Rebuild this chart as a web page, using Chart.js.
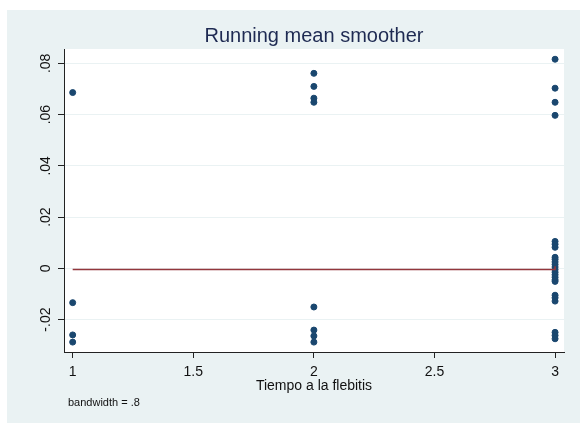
<!DOCTYPE html>
<html>
<head>
<meta charset="utf-8">
<script src="https://cdn.jsdelivr.net/npm/chart.js@4/dist/chart.umd.min.js"></script>
<style>
  html, body { margin: 0; padding: 0; background: #fff; }
  #wrap { width: 580px; height: 423px; }
</style>
</head>
<body>
<div id="wrap"><canvas id="myChart" width="580" height="423"></canvas></div>
<script>
// residuals by time group
const x1 = [1, 1, 1, 1];
const y1 = [0.0686, -0.0134, -0.0260, -0.0288];
const x2 = [2, 2, 2, 2, 2, 2, 2, 2];
const y2 = [0.0761, 0.0710, 0.0664, 0.0648, -0.0151, -0.0241, -0.0264, -0.0288];
const x3 = [3, 3, 3, 3, 3, 3, 3, 3, 3, 3, 3, 3, 3, 3, 3, 3, 3, 3, 3, 3, 3, 3, 3, 3];
const y3 = [0.0816, 0.0703, 0.0648, 0.0597,
            0.0105, 0.0094, 0.0082,
            0.0043, 0.0035, 0.0025, 0.0015, 0.0005, -0.0005, -0.0015, -0.0025, -0.0035, -0.0045, -0.0051,
            -0.0105, -0.0115, -0.0128,
            -0.0250, -0.0262, -0.0275];

// running mean smoother
const smoothX = [1, 2, 3, 3];
const smoothY = [-0.0005, -0.0005, -0.0005, 0.0008];

const xTickValues = [1, 1.5, 2, 2.5, 3];
const xTickLabels = ['1', '1.5', '2', '2.5', '3'];
const yTickValues = [-0.02, 0, 0.02, 0.04, 0.06, 0.08];
const yTickLabels = ['-.02', '0', '.02', '.04', '.06', '.08'];

const titleText = 'Running mean smoother';
const xTitle = 'Tiempo a la flebitis';
const noteText = 'bandwidth = .8';

const FONT = '"Liberation Sans", Arial, sans-serif';

function toPoints(xs, ys){
    return xs.map((x, i) => ({x: x, y: ys[i]}));
}

const points = toPoints(x1, y1).concat(toPoints(x2, y2), toPoints(x3, y3));

const background = {
    id: 'background',
    beforeDraw(chart){
        const ctx = chart.ctx;
        const a = chart.chartArea;
        ctx.save();
        ctx.fillStyle = '#eaf2f3';
        ctx.fillRect(7, 10, chart.width - 7, chart.height - 10);
        ctx.fillStyle = '#ffffff';
        ctx.fillRect(a.left, a.top, a.right - a.left, a.bottom - a.top);
        ctx.restore();
    },
    afterDraw(chart){
        const ctx = chart.ctx;
        const a = chart.chartArea;
        ctx.save();
        ctx.fillStyle = '#1e2a52';
        ctx.font = '20px ' + FONT;
        ctx.textAlign = 'center';
        ctx.textBaseline = 'middle';
        ctx.fillText(titleText, (a.left + a.right) / 2, 36);
        ctx.fillStyle = '#111';
        ctx.font = '11px ' + FONT;
        ctx.textAlign = 'left';
        ctx.fillText(noteText, 68, 403);
        ctx.restore();
    }
};

const ctx = document.querySelector('#myChart').getContext('2d');
const myChart = new Chart(ctx, {
    type: 'scatter',
    data: {
        datasets: [
            {
                data: toPoints(smoothX, smoothY),
                showLine: true,
                borderColor: '#93363c',
                borderWidth: 1.5,
                pointRadius: 0,
                order: 0
            },
            {
                data: points,
                backgroundColor: '#1a476f',
                borderColor: '#1a476f',
                borderWidth: 1,
                pointRadius: 3,
                order: 1
            }
        ]
    },
    options: {
        responsive: false,
        animation: false,
        events: [],
        layout: {
            padding: { top: 49, right: 16, left: 0, bottom: 0 }
        },
        plugins: {
            legend: { display: false },
            tooltip: { enabled: false }
        },
        scales: {
            x: {
                type: 'linear',
                min: 0.964,
                max: 3.037,
                afterBuildTicks: s => { s.ticks = xTickValues.map(v => ({value: v})); },
                afterFit: s => { s.height = 71; },
                grid: {
                    drawOnChartArea: false,
                    tickLength: 6,
                    tickColor: '#222'
                },
                border: { color: '#222', width: 1 },
                ticks: {
                    color: '#111',
                    padding: 6,
                    maxRotation: 0,
                    font: { family: FONT, size: 14 },
                    callback: (v, i) => xTickLabels[i]
                },
                title: {
                    display: true,
                    text: xTitle,
                    color: '#111',
                    font: { family: FONT, size: 14 },
                    padding: { top: 0, bottom: 28 }
                }
            },
            y: {
                type: 'linear',
                min: -0.03266,
                max: 0.0856,
                afterBuildTicks: s => { s.ticks = yTickValues.map(v => ({value: v})); },
                afterFit: s => { s.width = 64; },
                grid: {
                    color: '#eaf2f3',
                    lineWidth: 1,
                    tickLength: 6,
                    tickColor: '#222'
                },
                border: { color: '#222', width: 1 },
                ticks: {
                    color: '#111',
                    padding: 0,
                    minRotation: 90,
                    maxRotation: 90,
                    crossAlign: 'center',
                    font: { family: FONT, size: 14 },
                    callback: (v, i) => yTickLabels[i]
                }
            }
        }
    },
    plugins: [background]
});
</script>
</body>
</html>
